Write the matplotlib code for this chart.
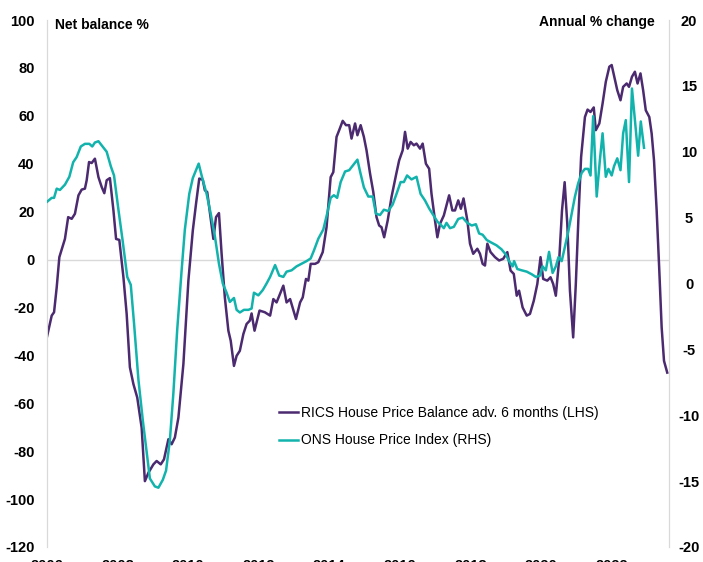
import matplotlib
matplotlib.use("Agg")
import matplotlib.pyplot as plt

# ---------------- data (months since Jan 2006, values) ----------------
rics_month = [0, 1.6, 2.4, 3.3, 4.2, 6.1, 7.2, 8.4, 9.5, 10.7, 11.8, 12.9, 13.5, 14.3, 15.2,
              16.3, 17.5, 18.6, 19.5, 20.3, 21.4, 22.6, 23.5, 24.6, 26, 27.1, 28.2, 29.4,
              30.7, 32.2, 33.3, 34.5, 36.2, 37.3, 38.7, 39.8, 41.3, 42.4, 43.5, 44.7, 46.4,
              48.1, 49.6, 50.7, 51.8, 53, 53.7, 54.5, 55.7, 56.6, 57.5, 58.5, 59.4, 60.5,
              61.7, 62.5, 63.6, 64.5, 65.6, 66.8, 67.9, 69, 69.6, 70.6, 72.3, 74.1, 75.9,
              77, 78.1, 80.4, 81.5, 82.7, 84.7, 86.1, 87, 88.1, 88.9, 89.7, 91.2, 92.3,
              93.8, 95.1, 96.5, 97.4, 98.5, 99.4, 100.6, 101.7, 102.8, 103.6, 104.8, 105.6,
              106.7, 107.8, 108.7, 109.9, 111, 112.1, 113, 113.8, 114.7, 115.9, 117.2,
              118.7, 119.8, 121, 121.8, 122.7, 123.7, 124.8, 125.7, 126.9, 127.8, 128.9,
              130, 130.8, 132, 132.8, 133.7, 135, 136.8, 137.9, 138.8, 139.9, 140.8, 141.7,
              143, 143.9, 145, 146.4, 147.3, 148.2, 149, 149.8, 150.9, 152.4, 153.8, 155.2,
              156.6, 157.7, 158.8, 159.8, 160.6, 161.8, 163.2, 164.3, 165.6, 166.8, 167.9,
              168.8, 170.2, 171.3, 172.2, 173.1, 174.3, 175.2, 176.1, 177, 177.9, 179,
              179.9, 180.8, 181.7, 183, 183.9, 184.9, 186, 186.7, 187.9, 189, 190.1, 191.3,
              192.1, 193, 194, 195.1, 196, 197.2, 198, 199, 200, 200.9, 201.9, 202.8,
              203.7, 204.9, 205.7, 206.5, 207.4, 208.3, 209.1, 209.9, 211]
rics_value = [-32.2, -23.4, -22, -11.6, 1.0, 8.6, 17.7, 17.0, 19.1, 26.8, 29.2, 29.6, 33.1,
              40.7, 40.3, 42.1, 34.4, 30.3, 27.7, 33.1, 34.0, 20.5, 8.6, 8.2, -7.4, -22.7,
              -45, -52, -57.6, -70.2, -92.5, -89, -85.5, -84.1, -85.5, -83.4, -75, -77.1,
              -74.3, -66, -43.6, -8.8, 12.1, 23.3, 33.8, 33.3, 28.9, 28.2, 17.0, 8.6, 17.7,
              19.4, 2.4, -15.8, -29.7, -33.9, -44.4, -40.2, -38.1, -31.1, -26.9, -25.5,
              -22.5, -29.7, -21.3, -22, -23.4, -16.5, -17.9, -10.9, -17.9, -16.5, -24.8,
              -17.9, -15.8, -8.1, -8.8, -1.8, -1.8, -1.1, 3.1, 13.5, 34.4, 36.5, 51.2, 54,
              57.9, 56.1, 56.1, 50.5, 56.8, 51.9, 56.1, 51.2, 45.6, 35.9, 28.2, 17.7, 14.2,
              13.5, 9.3, 16.3, 26.1, 35.1, 41.4, 45.6, 53.3, 46.3, 49.1, 47.7, 48.4, 46.3,
              48.4, 40, 37.9, 27.5, 16.3, 9.3, 14.9, 18.4, 26.8, 20.5, 20.5, 24.7, 21.2,
              25.5, 16.3, 6.6, 2.4, 4.5, 2.4, -1.8, -2.5, 6.6, 3.1, 1.0, -0.4, 0.3, 3.1,
              -4.6, -6, -15.1, -13, -20, -23.4, -22.7, -17.2, -10.2, 1.0, -8.1, -8.8, -7.4,
              -10.2, -15.1, 1.0, 20.5, 32.3, 14.9, -13, -32.5, -10.2, 17.7, 42.8, 59.5,
              62.6, 61.6, 63.5, 54, 56.8, 65.1, 74.2, 80.5, 81.2, 76.3, 70.7, 66.5, 72.1,
              73.5, 72.1, 76.3, 78.4, 73.5, 77.7, 70.7, 62.3, 59.5, 52.6, 41.4, 20.5, -4.6,
              -28.3, -42.3, -47.2]

ons_month = [0, 1.6, 2.4, 3.3, 4.4, 6.1, 7.6, 8.9, 10.1, 11.5, 12.9, 14.4, 15.4, 16.3, 17.5,
             18.9, 20.3, 21.7, 22.8, 24.3, 25.7, 27.3, 28.5, 29.6, 31.1, 32.6, 33.7, 35,
             36.7, 37.9, 39.4, 40.5, 41.8, 43, 44.3, 45.8, 46.9, 48.4, 49.6, 50.7, 51.6,
             52.6, 54.3, 55.7, 57.1, 58.5, 59.8, 61.1, 62.2, 63.6, 64.5, 65.6, 67, 68.5,
             69.6, 70.4, 71.9, 73.4, 74.7, 75.9, 77.6, 79, 80.4, 81.5, 83.2, 84.9, 86.6,
             88.3, 89.7, 90.8, 92.3, 94, 95.3, 96.5, 97.6, 98.7, 99.9, 101.4, 102.8,
             104.2, 105.6, 106.5, 107.8, 109.3, 110.8, 111.9, 113.3, 114.6, 116.1, 117.6,
             118.9, 120.3, 121.4, 122.5, 124, 125.7, 127.1, 128.6, 130, 131.4, 132.8,
             134.2, 135, 135.9, 137.1, 138.4, 139.9, 141.4, 143, 144.5, 145.9, 147, 148.2,
             149.6, 151.2, 152.9, 154.6, 156.1, 157.2, 158.4, 158.9, 160, 161.5, 163.2,
             164.9, 166.3, 167.7, 168.6, 169.7, 170.8, 172, 173.1, 174, 175.1, 176.2,
             177.3, 178.5, 179.6, 180.7, 181.9, 183, 184.1, 184.9, 185.8, 187, 188.1, 189,
             190.1, 191, 192.1, 192.9, 194, 195.1, 196, 196.9, 198, 199, 200.3, 201.1,
             202, 203.1]
ons_value = [6.2, 6.5, 6.5, 7.2, 7.1, 7.5, 8.1, 9.2, 9.6, 10.4, 10.6, 10.6, 10.4, 10.7,
             10.8, 10.4, 10.0, 8.9, 8.2, 5.6, 3.3, 0.5, -0.1, -3.0, -7.3, -10.4, -12.4,
             -14.8, -15.4, -15.5, -14.9, -14.2, -11.9, -8.3, -3.5, 1.0, 4.1, 6.8, 8.0,
             8.6, 9.1, 8.2, 6.8, 5.3, 3.6, 1.5, 0.0, -0.7, -1.4, -1.1, -2.0, -2.2, -2.0,
             -2.0, -1.9, -0.7, -0.9, -0.5, 0.0, 0.5, 1.4, 0.6, 0.5, 0.9, 1.0, 1.3, 1.5,
             1.7, 1.9, 2.5, 3.4, 4.1, 5.3, 6.5, 6.7, 6.5, 7.7, 8.5, 8.6, 9.0, 9.4, 8.5,
             7.3, 6.6, 6.6, 5.3, 5.2, 5.6, 5.5, 6.0, 6.8, 7.7, 7.7, 8.2, 7.9, 8.1, 6.8,
             6.3, 5.7, 5.2, 4.7, 4.4, 4.2, 4.6, 4.2, 4.3, 4.9, 5.0, 4.6, 4.4, 4.5, 3.8,
             3.7, 3.3, 3.1, 2.9, 2.6, 2.2, 1.7, 1.3, 1.7, 1.1, 1.0, 0.9, 0.7, 0.5, 0.6,
             1.3, 1.0, 2.4, 0.8, 1.3, 2.0, 1.7, 2.8, 3.9, 5.3, 6.6, 7.6, 8.4, 8.7, 8.7,
             8.2, 12.7, 6.6, 9.4, 11.4, 8.1, 8.7, 8.2, 8.9, 9.5, 8.6, 11.4, 12.4, 7.7,
             14.8, 11.7, 9.7, 12.3, 10.3]

year_ticks = [2006, 2008, 2010, 2012, 2014, 2016, 2018, 2020, 2022]
left_ticks = [-120, -100, -80, -60, -40, -20, 0, 20, 40, 60, 80, 100]
right_ticks = [-20, -15, -10, -5, 0, 5, 10, 15, 20]

rics_label = "RICS House Price Balance adv. 6 months (LHS)"
ons_label = "ONS House Price Index (RHS)"

# ---------------- styling ----------------
plt.rcParams["font.family"] = ["Liberation Sans", "DejaVu Sans"]
plt.rcParams["axes.unicode_minus"] = False

PURPLE = "#4b2a70"
TEAL = "#13b3ad"
GRID = "#d9d9d9"

fig = plt.figure(figsize=(7.03, 5.62), dpi=100)
ax = fig.add_axes([47 / 703, 1 - 547 / 562, (669 - 47) / 703, (547 - 20) / 562])
ax2 = ax.twinx()

rics_x = [2006 + m / 12 for m in rics_month]
ons_x = [2006 + m / 12 for m in ons_month]

l1, = ax.plot(rics_x, rics_value, color=PURPLE, lw=1.8, label=rics_label, zorder=3)
l2, = ax2.plot(ons_x, ons_value, color=TEAL, lw=1.8, label=ons_label, zorder=3)

ax.set_xlim(2006, 2006 + 211.6 / 12)
ax.set_ylim(-120, 100)
ax2.set_ylim(-20, 20)
ax.set_yticks(left_ticks)
ax2.set_yticks(right_ticks)
ax.set_xticks(year_ticks)
ax.set_xticklabels([str(y) for y in year_ticks])

ax.axhline(0, color=GRID, lw=1.0, zorder=1)

for a in (ax, ax2):
    for s in ("top", "bottom"):
        a.spines[s].set_visible(False)
    a.spines["left"].set_color(GRID)
    a.spines["right"].set_color(GRID)
    a.tick_params(length=0)

ax.tick_params(axis="y", pad=9, labelsize=10.5)
ax2.tick_params(axis="y", pad=14.5, labelsize=10.5)
ax.tick_params(axis="x", pad=9, labelsize=10.5)
for lab in ax.get_yticklabels() + ax2.get_yticklabels() + ax.get_xticklabels():
    lab.set_fontweight("bold")
for lab in ax2.get_yticklabels():
    lab.set_horizontalalignment("center")

fig.text(55 / 703, 1 - 25 / 562, "Net balance %", fontsize=10, fontweight="bold",
         ha="left", va="center")
fig.text(655 / 703, 1 - 22 / 562, "Annual % change", fontsize=10, fontweight="bold",
         ha="right", va="center")

fig.legend(handles=[l1, l2], loc="upper left", bbox_to_anchor=(266 / 703, 1 - 393 / 562),
           frameon=False, fontsize=10, handlelength=1.4, handletextpad=0.2,
           labelspacing=1.0)

fig.savefig("out.png", dpi=100)
